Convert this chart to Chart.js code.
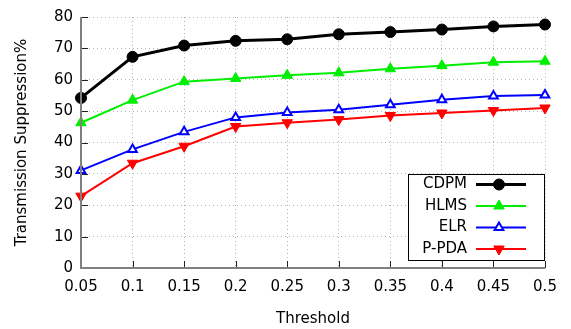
<!DOCTYPE html>
<html>
<head>
<meta charset="utf-8">
<script src="https://cdn.jsdelivr.net/npm/chart.js@4"></script>
<style>
  html, body { margin: 0; padding: 0; background: #fff; }
  #wrap { width: 571px; height: 329px; }
</style>
</head>
<body>
<div id="wrap"><canvas id="lineChart"></canvas></div>
<script>
// chart data
const thresholds = ['0.05', '0.1', '0.15', '0.2', '0.25', '0.3', '0.35', '0.4', '0.45', '0.5'];
const cdpm = [54.2, 67.3, 70.9, 72.4, 72.9, 74.5, 75.2, 76.0, 77.0, 77.6];
const hlms = [46.3, 53.5, 59.4, 60.4, 61.4, 62.2, 63.5, 64.5, 65.6, 65.9];
const elr = [31.1, 37.8, 43.4, 48.0, 49.6, 50.4, 52.0, 53.6, 54.8, 55.1];
const ppda = [22.9, 33.4, 38.8, 45.1, 46.3, 47.3, 48.6, 49.4, 50.2, 51.0];
const yTicks = [0, 10, 20, 30, 40, 50, 60, 70, 80];

const FONT = 'DejaVu Sans';
const AXIS_GREY = '#808080';

// solid axis lines + gnuplot-like inward tick marks
const innerTicks = {
    id: 'innerTicks',
    afterDatasetsDraw(chart) {
        const ctx = chart.ctx;
        const area = chart.chartArea;
        const xs = chart.scales.x, ys = chart.scales.y;
        ctx.save();
        ctx.strokeStyle = '#222';
        ctx.lineWidth = 1;
        ctx.beginPath();
        thresholds.forEach(function (t, i) {
            const px = Math.round(xs.getPixelForValue(i)) + 0.5;
            ctx.moveTo(px, area.bottom);
            ctx.lineTo(px, area.bottom - 7);
        });
        yTicks.forEach(function (v) {
            const py = Math.round(ys.getPixelForValue(v)) + 0.5;
            ctx.moveTo(area.left, py);
            ctx.lineTo(area.left + 7, py);
        });
        ctx.stroke();
        ctx.strokeStyle = AXIS_GREY;
        ctx.lineWidth = 2;
        ctx.beginPath();
        ctx.moveTo(area.left, area.top);
        ctx.lineTo(area.left, area.bottom);
        ctx.lineTo(area.right, area.bottom);
        ctx.stroke();
        ctx.restore();
    }
};

// legend box: label on the left, line sample with marker on the right
const boxLegend = {
    id: 'boxLegend',
    afterDraw(chart) {
        const ctx = chart.ctx;
        const area = chart.chartArea;
        const w = 136, h = 86;
        const x0 = area.right - w - 1, y0 = area.bottom - h - 8;
        ctx.save();
        ctx.fillStyle = '#fff';
        ctx.fillRect(x0, y0, w, h);
        ctx.strokeStyle = '#000';
        ctx.lineWidth = 1;
        ctx.setLineDash([]);
        ctx.strokeRect(x0 + 0.5, y0 + 0.5, w, h);
        ctx.font = '15px "' + FONT + '"';
        ctx.textAlign = 'right';
        ctx.textBaseline = 'middle';
        chart.data.datasets.forEach(function (ds, i) {
            const cy = y0 + 10.5 + i * 21.5;
            ctx.fillStyle = '#000';
            ctx.fillText(ds.label, x0 + 59, cy);
            ctx.strokeStyle = ds.borderColor;
            ctx.lineWidth = ds.borderWidth;
            ctx.beginPath();
            ctx.moveTo(x0 + 68, cy);
            ctx.lineTo(x0 + 118, cy);
            ctx.stroke();
            ctx.fillStyle = ds.pointBackgroundColor;
            ctx.strokeStyle = ds.borderColor;
            ctx.lineWidth = ds.pointBorderWidth;
            Chart.helpers.drawPoint(ctx, {
                pointStyle: ds.pointStyle,
                rotation: ds.pointRotation || 0,
                radius: ds.pointRadius,
                borderWidth: ds.pointBorderWidth
            }, x0 + 91, cy);
        });
        ctx.restore();
    }
};

function series(label, data, color, style, opts) {
    return Object.assign({
        label: label,
        data: data,
        borderColor: color,
        backgroundColor: color,
        pointBackgroundColor: color,
        pointBorderColor: color,
        pointStyle: style,
        pointRadius: 6,
        pointBorderWidth: 1,
        borderWidth: 2,
        tension: 0
    }, opts || {});
}

new Chart(document.getElementById('lineChart'), {
    type: 'line',
    data: {
        labels: thresholds,
        datasets: [
            series('CDPM', cdpm, '#000000', 'circle', { pointRadius: 5.5, borderWidth: 3 }),
            series('HLMS', hlms, '#00ee00', 'triangle', { pointRadius: 6 }),
            series('ELR', elr, '#0000ff', 'triangle', { pointRadius: 5, pointBackgroundColor: '#ffffff', pointBorderWidth: 2 }),
            series('P-PDA', ppda, '#ff0000', 'triangle', { pointRadius: 6, pointRotation: 180 })
        ]
    },
    options: {
        responsive: true,
        maintainAspectRatio: false,
        animation: false,
        layout: { padding: { left: 0, right: 26, top: 17, bottom: 0 } },
        plugins: {
            legend: { display: false },
            tooltip: { enabled: false }
        },
        scales: {
            x: {
                type: 'category',
                offset: false,
                afterFit: function (s) { s.height = 61; },
                grid: {
                    color: '#b4b4b4',
                    lineWidth: 1,
                    drawTicks: false
                },
                border: { display: false, dash: [1, 3] },
                ticks: {
                    color: '#000',
                    padding: 10,
                    maxRotation: 0,
                    autoSkip: false,
                    font: { family: FONT, size: 15 }
                },
                title: {
                    display: true,
                    text: 'Threshold',
                    color: '#000',
                    padding: { top: 0, bottom: 1 },
                    font: { family: FONT, size: 15 }
                }
            },
            y: {
                min: 0,
                max: 80,
                afterFit: function (s) { s.width = 81; },
                grid: {
                    color: '#b4b4b4',
                    lineWidth: 1,
                    drawTicks: false
                },
                border: { display: false, dash: [1, 3] },
                ticks: {
                    stepSize: 10,
                    color: '#000',
                    padding: 8,
                    font: { family: FONT, size: 15 }
                },
                title: {
                    display: true,
                    text: 'Transmission Suppression%',
                    color: '#000',
                    padding: { top: 13, bottom: 0 },
                    font: { family: FONT, size: 15 }
                }
            }
        }
    },
    plugins: [innerTicks, boxLegend]
});
</script>
</body>
</html>
